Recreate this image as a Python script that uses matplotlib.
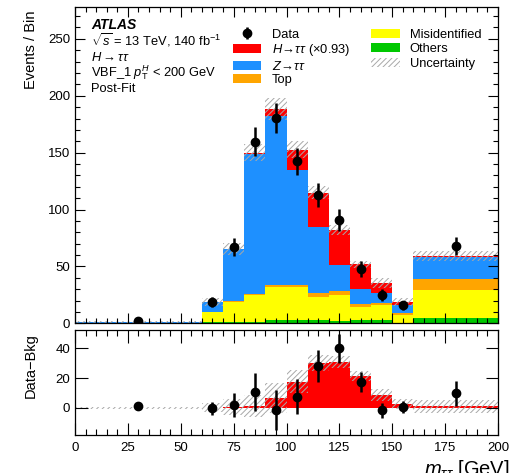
import numpy as np
import matplotlib as mpl
mpl.use("Agg")
import matplotlib.pyplot as plt
from matplotlib.patches import Patch
from matplotlib.ticker import MultipleLocator

mpl.rcParams.update({
    "font.family": ["Liberation Sans", "DejaVu Sans"],
    "mathtext.fontset": "custom",
    "mathtext.rm": "Liberation Sans",
    "mathtext.it": "Liberation Sans:italic",
    "mathtext.bf": "Liberation Sans:bold",
    "hatch.linewidth": 0.7,
    "axes.linewidth": 0.9,
})

# ── data ──
edges  = np.array([0, 60, 70, 80, 90, 100, 110, 120, 130, 140, 150, 160, 200])
others = np.array([0.05, 1.0, 1.0, 1.2, 3.2, 3.2, 3.0, 2.2, 2.5, 2.5, 0.6, 5.0])
misid  = np.array([0.4, 9.0, 17.8, 23.4, 28.8, 28.8, 20.2, 23.0, 11.9, 13.3, 6.4, 24.0])
top    = np.array([0.05, 0.3, 0.5, 1.4, 1.5, 2.0, 3.5, 3.0, 2.3, 2.1, 2.0, 9.5])
ztt    = np.array([0.3, 8.5, 45.7, 122.8, 148.5, 101.0, 58.1, 22.8, 13.8, 8.8, 6.8, 19.9])
htt    = np.array([0.0, 0.1, 0.3, 1.3, 6.4, 17.6, 30.0, 31.0, 21.3, 8.7, 2.7, 0.9])
unc    = np.array([0.8, 3.3, 5.5, 7.5, 10.0, 7.5, 5.5, 4.0, 3.2, 4.0, 3.5, 4.5])
data_x   = np.array([30, 65, 75, 85, 95, 105, 115, 125, 135, 145, 155, 180])
data_y   = np.array([2.0, 18.5, 67.0, 159.5, 180.5, 142.5, 113.0, 91.0, 48.0, 25.0, 16.0, 68.0])
data_err = np.array([1.3, 4.3, 8.2, 12.6, 13.4, 11.9, 10.6, 9.6, 6.9, 5.0, 4.0, 8.2])

C_OTH, C_MIS, C_TOP, C_Z, C_H = "#00C800", "#FFFF00", "#FFA500", "#1E90FF", "#FF0000"
C_HATCH = "#A8A8A8"
HATCH = "//////"

bkg = others + misid + top + ztt
total = bkg + htt


def style_axis(ax, major_len, minor_len):
    ax.tick_params(which="both", direction="in", top=True, right=True, labelsize=9.5)
    ax.tick_params(which="major", length=major_len, width=0.8)
    ax.tick_params(which="minor", length=minor_len, width=0.8)
    ax.xaxis.set_major_locator(MultipleLocator(25))
    ax.xaxis.set_minor_locator(MultipleLocator(5))


fig = plt.figure(figsize=(5.2, 4.73), dpi=100)
W, H = 520, 473
ax = fig.add_axes([75 / W, 1 - 323.3 / H, 423 / W, 316.3 / H])
axr = fig.add_axes([75 / W, 1 - 435 / H, 423 / W, 105 / H])

# ── top panel: stack ──
bottom = np.zeros_like(others)
for vals, c in [(others, C_OTH), (misid, C_MIS), (top, C_TOP), (ztt, C_Z), (htt, C_H)]:
    ax.stairs(bottom + vals, edges, baseline=bottom, fill=True, color=c, linewidth=0)
    bottom = bottom + vals
ax.stairs(total + unc, edges, baseline=total - unc, fill=True, facecolor="none",
          edgecolor=C_HATCH, linewidth=0, hatch=HATCH)
eb = ax.errorbar(data_x, data_y, yerr=data_err, fmt="o", color="black", ms=6,
                 elinewidth=1.8, capsize=0)

ax.set_xlim(0, 200)
ax.set_ylim(0, 278)
ax.yaxis.set_major_locator(MultipleLocator(50))
ax.yaxis.set_minor_locator(MultipleLocator(10))
style_axis(ax, 7, 3.5)
ax.tick_params(labelbottom=False)
ax.set_ylabel("Events / Bin", loc="top", fontsize=10.5)
ax.yaxis.set_label_coords(-0.088, 0.99)

# labels
tx = (91 - 75) / 423
ax.text(tx, 0.9295, "ATLAS", transform=ax.transAxes, fontsize=10,
        fontweight="bold", style="italic", va="baseline")
lines = [r"$\sqrt{s}$ = 13 TeV, 140 fb$^{-1}$", r"$H \rightarrow \tau\tau$",
         r"VBF_1 $p_{\mathrm{T}}^{H}$ < 200 GeV", "Post-Fit"]
for i, s in enumerate(lines):
    ax.text(tx, 0.8796 - i * 0.04995, s, transform=ax.transAxes, fontsize=9.3, va="baseline")

# legend: two columns drawn as two legends
leg_kw = dict(loc="upper left", frameon=False, fontsize=9.3, handlelength=2.2,
              handletextpad=0.8, borderpad=0, borderaxespad=0)
h1 = [eb,
      Patch(facecolor=C_H, linewidth=0),
      Patch(facecolor=C_Z, linewidth=0),
      Patch(facecolor=C_TOP, linewidth=0)]
l1 = ["Data", r"$H\!\rightarrow\!\tau\tau$ (×0.93)", r"$Z\!\rightarrow\!\tau\tau$", "Top"]
leg1 = ax.legend(h1, l1, bbox_to_anchor=(0.3735, 0.932), labelspacing=0.12, **leg_kw)
ax.add_artist(leg1)
h2 = [Patch(facecolor=C_MIS, linewidth=0),
      Patch(facecolor=C_OTH, linewidth=0),
      Patch(facecolor="none", edgecolor=C_HATCH, linewidth=0, hatch=HATCH)]
l2 = ["Misidentified", "Others", "Uncertainty"]
ax.legend(h2, l2, bbox_to_anchor=(0.700, 0.932), labelspacing=0.22, **leg_kw)

# ── ratio panel: data - bkg ──
axr.stairs(htt, edges, baseline=0, fill=True, color=C_H, linewidth=0)
axr.stairs(htt + unc, edges, baseline=htt - unc, fill=True, facecolor="none",
           edgecolor=C_HATCH, linewidth=0, hatch=HATCH)
axr.errorbar(data_x, data_y - bkg, yerr=data_err, fmt="o", color="black", ms=6,
             elinewidth=1.8, capsize=0)
axr.set_xlim(0, 200)
axr.set_ylim(-18.4, 52.4)
axr.yaxis.set_major_locator(MultipleLocator(20))
style_axis(axr, 9, 4.5)
axr.tick_params(axis="x", pad=5)
axr.set_ylabel("Data\u2212Bkg", loc="top", fontsize=10.5)
axr.yaxis.set_label_coords(-0.088, 0.97)
axr.set_xlabel(r"$m_{\tau\tau}$ [GeV]", loc="right", fontsize=14.5)
axr.xaxis.set_label_coords(1.028, -0.215)

fig.savefig("out.png", dpi=100)
